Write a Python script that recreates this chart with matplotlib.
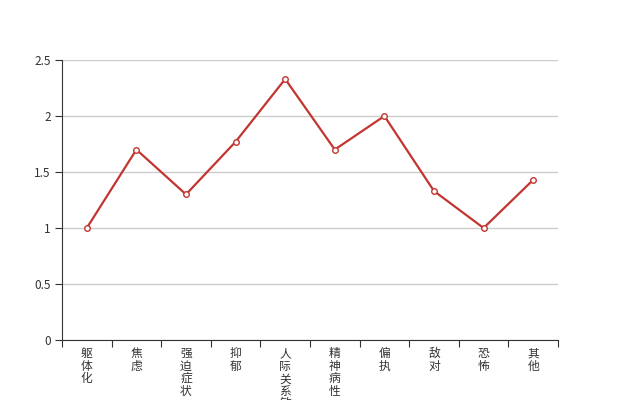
import matplotlib
matplotlib.use("Agg")
import matplotlib.pyplot as plt
import numpy as np

plt.rcParams['font.family'] = ['Noto Sans CJK SC', 'DejaVu Sans']

# 类别和数值
categories = ['躯体化', '焦虑', '强迫症状', '抑郁', '人际关系敏感', '精神病性', '偏执', '敌对', '恐怖', '其他']
values = [1.0, 1.7, 1.3, 1.77, 2.33, 1.7, 2.0, 1.33, 1.0, 1.43]
yticks = [0, 0.5, 1, 1.5, 2, 2.5]
ytick_labels = ['0', '0.5', '1', '1.5', '2', '2.5']

fig = plt.figure(figsize=(6.2, 4), dpi=100)
ax = fig.add_axes([0.1, 0.15, 0.8, 0.7])

x = np.arange(len(categories)) + 0.5
ax.plot(x, values, color='#c23531', linewidth=1.6, marker='o', markersize=4,
        markerfacecolor='white', markeredgecolor='#c23531', markeredgewidth=1, zorder=3)

ax.set_xlim(0, len(categories))
ax.set_ylim(0, 2.5)
ax.set_yticks(yticks)
ax.set_yticklabels(ytick_labels)
ax.yaxis.grid(True, color='#cccccc', linewidth=1)
ax.set_axisbelow(True)

# 分类边界刻度
ax.set_xticks(np.arange(len(categories) + 1))
ax.set_xticklabels([])
for xi, name in zip(x, categories):
    ax.text(xi, -0.025, '\n'.join(name), transform=ax.get_xaxis_transform(),
            ha='center', va='top', fontsize=8.5, color='#333333', linespacing=0.96)

for side in ['top', 'right']:
    ax.spines[side].set_visible(False)
for side in ['left', 'bottom']:
    ax.spines[side].set_color('#333333')
ax.tick_params(axis='both', colors='#333333', labelsize=8.5, length=5)
ax.tick_params(axis='y', pad=3)

fig.savefig('out.png', dpi=100)
